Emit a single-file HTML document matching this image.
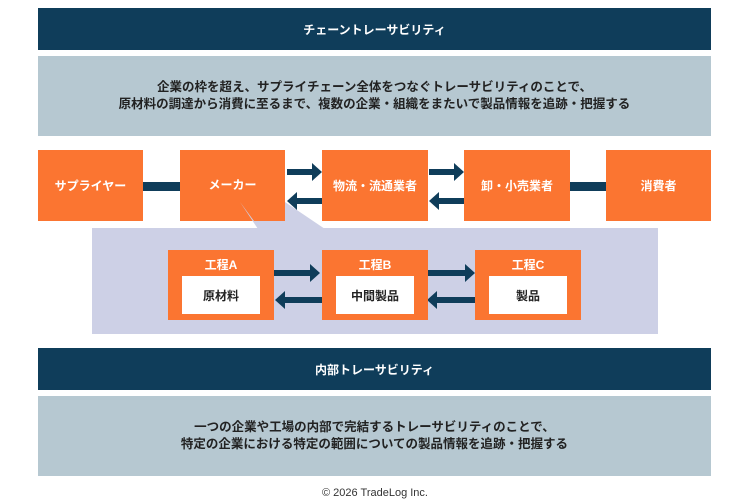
<!DOCTYPE html>
<html><head><meta charset="utf-8"><style>
body{margin:0;width:750px;height:500px;background:#fff;position:relative;font-family:"Liberation Sans","Noto Sans CJK JP",sans-serif;font-weight:bold;overflow:hidden}
.a{position:absolute;box-sizing:border-box;display:flex;align-items:center;justify-content:center;text-align:center}
.nav{background:#0f3d5a;color:#fff;font-size:12px}
.gr{background:#b6c8d1;color:#222;font-size:12.5px;line-height:17px;flex-direction:column}
.o{background:#fb7531;color:#fff;font-size:12px}
.w{background:#fff;color:#222;font-size:12px}
.ib{background:#fb7531;color:#fff;font-size:12px;align-items:flex-start;padding-top:6px}
.ln{position:absolute;background:#0f3d5a}
</style></head><body>
<div class="a nav" style="left:38px;top:8px;width:673px;height:42px">チェーントレーサビリティ</div>
<div class="a gr" style="left:38px;top:56px;width:673px;height:80px"><div>企業の枠を超え、サプライチェーン全体をつなぐトレーサビリティのことで、</div><div>原材料の調達から消費に至るまで、複数の企業・組織をまたいで製品情報を追跡・把握する</div></div>

<div class="a" style="left:92px;top:228px;width:566px;height:106px;background:#cdd0e6"></div>
<div class="ln" style="left:143px;top:182px;width:37px;height:9px"></div>
<div class="ln" style="left:569px;top:182px;width:37px;height:9px"></div>
<div class="a o" style="left:38px;top:150px;width:105px;height:71px">サプライヤー</div>
<div class="a o" style="left:180px;top:150px;width:105px;height:71px;align-items:flex-start;padding-top:26px">メーカー</div>
<svg style="position:absolute;left:0;top:0" width="750" height="500">
<polygon points="240,202 258,229 325,229 285,202 285,221 254,221" fill="#cdd0e6"/>
<g fill="#0f3d5a">
<path d="M287,169h25v-6l10,9l-10,9v-6h-25z"/>
<path d="M322,198h-25v-6l-10,9l10,9v-6h25z"/>
<path d="M429,169h25v-6l10,9l-10,9v-6h-25z"/>
<path d="M464,198h-25v-6l-10,9l10,9v-6h25z"/>
<path d="M273,270h37v-6l10,9l-10,9v-6h-37z"/>
<path d="M322,297h-37v-6l-10,9l10,9v-6h37z"/>
<path d="M427,270h38v-6l10,9l-10,9v-6h-38z"/>
<path d="M475,297h-38v-6l-10,9l10,9v-6h38z"/>
</g></svg>
<div class="a o" style="left:322px;top:150px;width:106px;height:71px">物流・流通業者</div>
<div class="a o" style="left:464px;top:150px;width:106px;height:71px">卸・小売業者</div>
<div class="a o" style="left:606px;top:150px;width:105px;height:71px">消費者</div>

<div class="a ib" style="left:168px;top:250px;width:106px;height:70px">工程A</div>
<div class="a ib" style="left:322px;top:250px;width:106px;height:70px">工程B</div>
<div class="a ib" style="left:475px;top:250px;width:106px;height:70px">工程C</div>
<div class="a w" style="left:182px;top:276px;width:78px;height:38px">原材料</div>
<div class="a w" style="left:336px;top:276px;width:78px;height:38px">中間製品</div>
<div class="a w" style="left:489px;top:276px;width:78px;height:38px">製品</div>

<div class="a nav" style="left:38px;top:348px;width:673px;height:42px">内部トレーサビリティ</div>
<div class="a gr" style="left:38px;top:396px;width:673px;height:80px"><div>一つの企業や工場の内部で完結するトレーサビリティのことで、</div><div>特定の企業における特定の範囲についての製品情報を追跡・把握する</div></div>
<div class="a" style="left:0;top:485px;width:750px;height:16px;font-weight:normal;font-size:11px;color:#333">© 2026 TradeLog Inc.</div>
</body></html>
